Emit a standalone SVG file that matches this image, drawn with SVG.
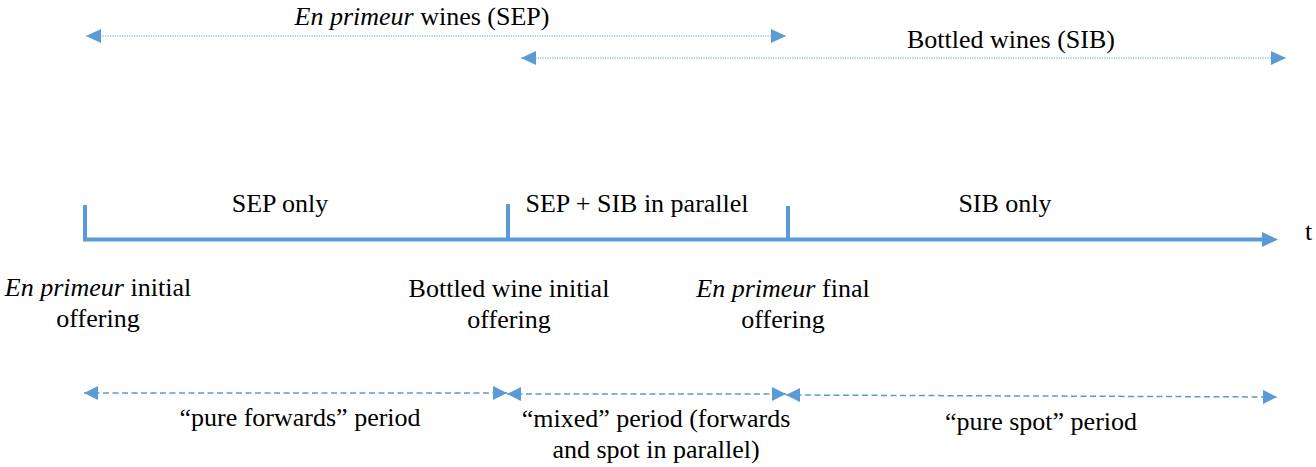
<svg xmlns="http://www.w3.org/2000/svg" width="1316" height="467" viewBox="0 0 1316 467">
<style>
  .c { text-anchor: middle; }
  .dot { stroke: #5B9BD5; stroke-width: 1.2; stroke-dasharray: 1.2 1.2; fill: none; }
  .dash { stroke: #5B9BD5; stroke-width: 1.5; stroke-dasharray: 6 3.5; fill: none; }
  .axis { stroke: #5B9BD5; stroke-width: 4; fill: none; }
  .head { fill: #5B9BD5; }
</style>
<defs>
  <marker id="ah" viewBox="0 0 15 14" refX="15" refY="7" markerWidth="15" markerHeight="14" markerUnits="userSpaceOnUse" orient="auto-start-reverse">
    <path d="M0,0 L15,7 L0,14 Z" class="head"/>
  </marker>
  <marker id="ah2" viewBox="0 0 14 14" refX="14" refY="7" markerWidth="14" markerHeight="14" markerUnits="userSpaceOnUse" orient="auto-start-reverse">
    <path d="M0,0 L14,7 L0,14 Z" class="head"/>
  </marker>
</defs>

<g id="connectors">
  <line id="sep-range" class="dot" x1="86" y1="36" x2="786" y2="36" marker-start="url(#ah)" marker-end="url(#ah)"/>
  <line id="sib-range" class="dot" x1="521" y1="58" x2="1286" y2="58" marker-start="url(#ah)" marker-end="url(#ah)"/>
  <path id="time-axis" class="axis" d="M85,205 V239.5 H1264"/>
  <polygon class="head" points="1262,232 1278,239.5 1262,247"/>
  <line class="axis" x1="508" y1="204" x2="508" y2="239.5"/>
  <line class="axis" x1="788" y1="206" x2="788" y2="239.5"/>
  <line id="pure-forwards" class="dash" x1="84" y1="393" x2="507" y2="393" marker-start="url(#ah2)" marker-end="url(#ah2)"/>
  <line id="mixed" class="dash" x1="507" y1="394" x2="786" y2="394" marker-start="url(#ah2)" marker-end="url(#ah2)"/>
  <line id="pure-spot" class="dash" x1="786" y1="395" x2="1277" y2="397" marker-start="url(#ah2)" marker-end="url(#ah2)"/>
</g>

<g font-family="Liberation Serif, DejaVu Serif, serif" font-size="26" fill="#000">
<g id="label-sep">
  <text class="c" x="422" y="25"><tspan font-style="italic">En primeur</tspan> wines (SEP)</text>
</g>
<g id="label-sib">
  <text class="c" x="1011" y="48">Bottled wines (SIB)</text>
</g>

<g id="phase-sep-only">
  <text class="c" x="280" y="212">SEP only</text>
</g>
<g id="phase-parallel">
  <text class="c" x="637" y="212">SEP + SIB in parallel</text>
</g>
<g id="phase-sib-only">
  <text class="c" x="1005" y="212">SIB only</text>
</g>
<g id="axis-label">
  <text x="1305" y="240">t</text>
</g>

<g id="event-ep-initial">
  <text class="c" x="98" y="296"><tspan font-style="italic">En primeur</tspan> initial</text>
  <text class="c" x="98" y="327">offering</text>
</g>
<g id="event-bw-initial">
  <text class="c" x="509" y="297">Bottled wine initial</text>
  <text class="c" x="509" y="328">offering</text>
</g>
<g id="event-ep-final">
  <text class="c" x="783" y="297"><tspan font-style="italic">En primeur</tspan> final</text>
  <text class="c" x="783" y="328">offering</text>
</g>

<g id="period-pure-forwards">
  <text class="c" x="300" y="426">“pure forwards” period</text>
</g>
<g id="period-mixed">
  <text class="c" x="656" y="427">“mixed” period (forwards</text>
  <text class="c" x="656" y="458">and spot in parallel)</text>
</g>
<g id="period-pure-spot">
  <text class="c" x="1041" y="430">“pure spot” period</text>
</g>
</g>
</svg>
